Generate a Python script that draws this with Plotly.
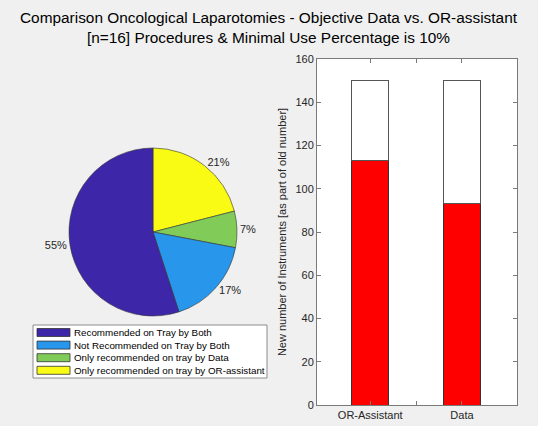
import plotly.graph_objects as go

# Pie data
pie_labels = ["Recommended on Tray by Both", "Not Recommended on Tray by Both",
              "Only recommended on tray by Data", "Only recommended on tray by OR-assistant"]
pie_values = [55, 17, 7, 21]
pie_colors = ["#3E26A8", "#2796EB", "#81CC59", "#F9FB15"]

# Bar data
bar_categories = ["OR-Assistant", "Data"]
bar_x = [1, 2]
red_values = [113, 93]
total_values = [150, 150]
white_values = [t - r for t, r in zip(total_values, red_values)]

y_ticks = [0, 20, 40, 60, 80, 100, 120, 140, 160]

W, H = 538, 426
font_family = "Liberation Sans, Arial, Helvetica, sans-serif"
txt_color = "#262626"
axis_color = "#7a7a7a"

fig = go.Figure()

# MATLAB draws the pie counterclockwise from 12 o'clock; plotly clockwise with reversed order
fig.add_trace(go.Pie(
    labels=pie_labels[::-1], values=pie_values[::-1], sort=False,
    direction="clockwise", rotation=0,
    marker=dict(colors=pie_colors[::-1], line=dict(color="#333333", width=0.6)),
    textposition="outside",
    texttemplate="%{percent:.0%}",
    textfont=dict(size=11, color=txt_color, family=font_family),
    domain=dict(x=[69 / W, 237 / W], y=[(H - 316) / H, (H - 148) / H]),
    showlegend=False, automargin=False,
    hoverinfo="label+percent",
))

fig.add_trace(go.Bar(
    x=bar_x, y=red_values, width=0.4,
    marker=dict(color="#FF0000", line=dict(color="#333333", width=1)),
    showlegend=False, xaxis="x", yaxis="y",
))
fig.add_trace(go.Bar(
    x=bar_x, y=white_values, width=0.4,
    marker=dict(color="#FFFFFF", line=dict(color="#555555", width=1)),
    showlegend=False, xaxis="x", yaxis="y",
))

# Legend (MATLAB style: wide swatches in a boxed list)
leg_x0, leg_x1 = 33 / W, 267 / W
leg_top, leg_bot = (H - 325) / H, (H - 378) / H
row_h = 12.6 / H
first_row = (H - 332.5) / H
shapes = [dict(type="rect", xref="paper", yref="paper", x0=leg_x0, x1=leg_x1,
               y0=leg_bot, y1=leg_top, fillcolor="#FFFFFF",
               line=dict(color="#8c8c8c", width=1), layer="below")]
annotations = []
for i, (lab, col) in enumerate(zip(pie_labels, pie_colors)):
    yc = first_row - i * row_h
    shapes.append(dict(type="rect", xref="paper", yref="paper",
                       x0=37 / W, x1=70 / W, y0=yc - 4 / H, y1=yc + 4 / H,
                       fillcolor=col, line=dict(color="#333333", width=0.8)))
    annotations.append(dict(text=lab, x=72 / W, y=yc, xref="paper", yref="paper",
                            xanchor="left", yanchor="middle", showarrow=False,
                            font=dict(size=9.8, color="#000000")))

annotations.append(dict(
    text="Comparison Oncological Laparotomies - Objective Data vs. OR-assistant<br>[n=16] Procedures & Minimal Use Percentage is 10%",
    x=0.5, y=(H - 7) / H, xref="paper", yref="paper",
    xanchor="center", yanchor="top", showarrow=False,
    font=dict(size=15.4, color="#000000"),
))

fig.update_layout(
    width=W, height=H,
    margin=dict(l=0, r=0, t=0, b=0),
    paper_bgcolor="#F0F0F0",
    plot_bgcolor="#FFFFFF",
    barmode="stack",
    showlegend=False,
    font=dict(family=font_family, color=txt_color, size=11),
    xaxis=dict(
        domain=[317 / W, 517 / W], range=[0.42, 2.6],
        tickvals=[1, 1.5, 2], ticktext=[bar_categories[0], "", bar_categories[1]],
        ticks="inside", ticklen=4, tickcolor=axis_color,
        showline=True, linecolor=axis_color, linewidth=1, mirror="ticks",
        showgrid=False, zeroline=False, automargin=False,
        tickfont=dict(size=11, color=txt_color),
    ),
    yaxis=dict(
        domain=[(H - 405) / H, (H - 59) / H], range=[0, 160],
        tickvals=y_ticks,
        ticks="inside", ticklen=4, tickcolor=axis_color,
        showline=True, linecolor=axis_color, linewidth=1, mirror="ticks",
        showgrid=False, zeroline=False, automargin=False,
        tickfont=dict(size=11, color=txt_color),
        title=dict(text="New number of Instruments [as part of old number]",
                   font=dict(size=11, color=txt_color), standoff=6),
    ),
    shapes=shapes,
    annotations=annotations,
)

fig.write_html("out.html",
               config={"displayModeBar": False},
               post_script="document.body.style.margin='0';document.body.style.background='#F0F0F0';")
